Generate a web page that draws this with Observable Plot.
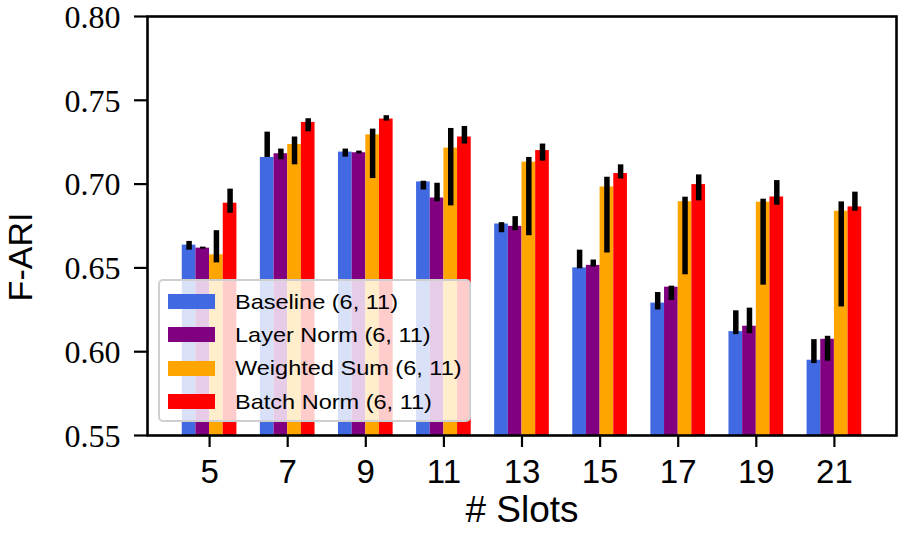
<!DOCTYPE html>
<html>
<head>
<meta charset="utf-8">
<script src="https://cdn.jsdelivr.net/npm/d3@7"></script>
<script src="https://cdn.jsdelivr.net/npm/@observablehq/plot@0.6"></script>
<style>
  html, body { margin: 0; padding: 0; background: #fff; }
  #wrap { position: relative; width: 900px; height: 551px; overflow: hidden; }
  .legend { position: absolute; left: 158px; top: 279px; width: 313px; height: 143px; box-sizing: border-box;
    border: 2px solid #cfcfcf; border-radius: 5px; background: rgba(255,255,255,0.8);
    font-family: "Liberation Sans", Arial, sans-serif; font-size: 21px; color: #000; padding-top: 4px; }
  .legend .row { display: flex; align-items: center; height: 33.3px; }
  .legend .sw { width: 47px; height: 15px; margin-left: 8px; margin-right: 20px; flex: none; }
  .legend .lbl { display: inline-block; transform: scaleX(1.12); transform-origin: left center; white-space: nowrap; }
  .ylab { position: absolute; left: 20px; top: 257px; transform: translate(-50%, -50%) rotate(-90deg);
    font-family: "Liberation Sans", Arial, sans-serif; font-size: 34px; white-space: nowrap; color: #000; }
  svg text.serif-tick, g.serif-ticks text { font-family: "Liberation Serif", "DejaVu Serif", "Times New Roman", serif !important; }
</style>
</head>
<body>
<div id="wrap"></div>
<script>
const slots = [5, 7, 9, 11, 13, 15, 17, 19, 21];
const seriesNames = ["Baseline (6, 11)", "Layer Norm (6, 11)", "Weighted Sum (6, 11)", "Batch Norm (6, 11)"];
const seriesColors = ["#4169E1", "#800080", "#FFA500", "#FF0000"];
const yTicks = [0.55, 0.60, 0.65, 0.70, 0.75, 0.80];
const yLabel = "F-ARI";
const xLabel = "# Slots";

// bar heights
const baseline     = [0.6636, 0.7159, 0.7191, 0.7013, 0.6762, 0.6500, 0.6290, 0.6120, 0.5949];
const layerNorm    = [0.6618, 0.7181, 0.7187, 0.6917, 0.6748, 0.6515, 0.6385, 0.6152, 0.6074];
const weightedSum  = [0.6578, 0.7236, 0.7294, 0.7215, 0.7131, 0.6983, 0.6895, 0.6892, 0.6838];
const batchNorm    = [0.6886, 0.7368, 0.7388, 0.7281, 0.7200, 0.7063, 0.6997, 0.6923, 0.6864];

// error bar extents (low, high)
const baselineLo    = [0.6606, 0.7159, 0.7161, 0.6965, 0.6710, 0.6495, 0.6249, 0.6102, 0.5929];
const baselineHi    = [0.6658, 0.7310, 0.7209, 0.7017, 0.6770, 0.6606, 0.6353, 0.6244, 0.6072];
const layerNormLo   = [0.6612, 0.7145, 0.7181, 0.6895, 0.6722, 0.6505, 0.6306, 0.6108, 0.5943];
const layerNormHi   = [0.6624, 0.7209, 0.7197, 0.7005, 0.6806, 0.6547, 0.6391, 0.6260, 0.6092];
const weightedSumLo = [0.6530, 0.7115, 0.7033, 0.6870, 0.6692, 0.6589, 0.6459, 0.6397, 0.6267];
const weightedSumHi = [0.6722, 0.7281, 0.7328, 0.7332, 0.7159, 0.7041, 0.6922, 0.6910, 0.6894];
const batchNormLo   = [0.6826, 0.7312, 0.7376, 0.7239, 0.7137, 0.7031, 0.6900, 0.6874, 0.6838];
const batchNormHi   = [0.6970, 0.7390, 0.7408, 0.7344, 0.7239, 0.7115, 0.7055, 0.7021, 0.6952];

const values = [baseline, layerNorm, weightedSum, batchNorm];
const lows = [baselineLo, layerNormLo, weightedSumLo, batchNormLo];
const highs = [baselineHi, layerNormHi, weightedSumHi, batchNormHi];

const barW = 0.35; // in slot units
const rows = [];
seriesNames.forEach((name, si) => {
  slots.forEach((s, i) => {
    const c = s + (si - 1.5) * barW;
    rows.push({series: name, si, slot: s, x1: c - barW / 2, x2: c + barW / 2, xc: c,
      v: values[si][i], lo: lows[si][i], hi: highs[si][i]});
  });
});

const yMin = yTicks[0], yMax = yTicks[yTicks.length - 1];
const fmt = d3.format(".2f");
const serifStack = "'Liberation Serif', 'DejaVu Serif', 'Times New Roman', serif";

const chart = Plot.plot({
  width: 900,
  height: 551,
  marginLeft: 147,
  marginRight: 4,
  marginTop: 16,
  marginBottom: 116,
  style: {background: "#fff", color: "#000"},
  x: {type: "linear", domain: [3.41, 22.59]},
  y: {domain: [yMin, yMax]},
  color: {domain: seriesNames, range: seriesColors},
  marks: [
    Plot.rect(rows, {x1: "x1", x2: "x2", y1: () => yMin, y2: "v", fill: "series"}),
    Plot.ruleX(rows, {x: "xc", y1: "lo", y2: "hi", stroke: "#000", strokeWidth: 5.5}),
    Plot.axisY({ticks: yTicks, tickFormat: () => "", tickSize: 13, strokeWidth: 2.2, label: null}),
    Plot.text(yTicks, {y: d => d, text: d => fmt(d), frameAnchor: "left", textAnchor: "end", dx: -27, dy: 1,
      fontSize: 32, fontFamily: serifStack, fill: "#000", className: "serif-ticks"}),
    Plot.axisX({ticks: slots, tickFormat: d => String(d), tickSize: 12, tickPadding: 12,
      strokeWidth: 2.2, fontSize: 33, fontFamily: "Liberation Sans", label: null}),
    Plot.frame({stroke: "#000", strokeWidth: 2.6}),
    Plot.text([xLabel], {frameAnchor: "bottom", text: d => d, dy: 86,
      fontSize: 37, fontFamily: "Liberation Sans", fill: "#000"})
  ]
});

const wrap = document.getElementById("wrap");
wrap.appendChild(chart);

// make sure the y tick labels use a serif face
d3.select(chart).selectAll("text").each(function() {
  const t = this.textContent;
  if (yTicks.map(fmt).includes(t)) {
    this.classList.add("serif-tick");
    this.setAttribute("font-family", serifStack);
    this.style.fontFamily = serifStack;
  }
});

const yl = document.createElement("div");
yl.className = "ylab";
yl.textContent = yLabel;
wrap.appendChild(yl);

const legend = document.createElement("div");
legend.className = "legend";
seriesNames.forEach((name, i) => {
  const row = document.createElement("div");
  row.className = "row";
  const sw = document.createElement("span");
  sw.className = "sw";
  sw.style.background = seriesColors[i];
  const label = document.createElement("span");
  label.className = "lbl";
  label.textContent = name;
  row.appendChild(sw);
  row.appendChild(label);
  legend.appendChild(row);
});
wrap.appendChild(legend);
</script>
</body>
</html>
